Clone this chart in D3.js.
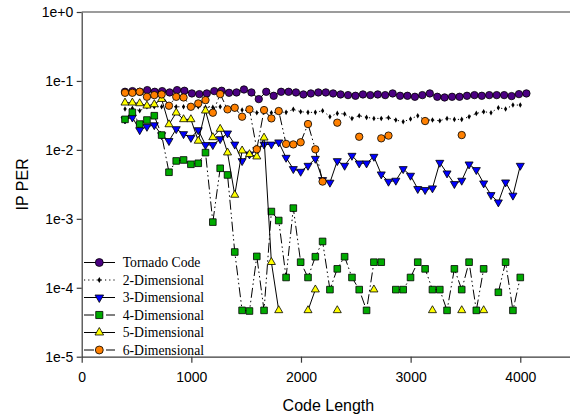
<!DOCTYPE html>
<html><head><meta charset="utf-8">
<script src="https://cdn.jsdelivr.net/npm/d3@7"></script>
<style>body{margin:0;background:#fff}svg{display:block}</style>
</head><body><svg id="c" width="570" height="415"></svg>
<script>
const codeLengthTornado = [395,463,531,598,666,734,802,870,937,1005,1073,1141,1209,1276,1344,1412,1480,1548,1615,1683,1751,1819,1887,1954,2022,2090,2158,2226,2293,2361,2429,2497,2565,2632,2700,2768,2836,2904,2971,3039,3107,3175,3243,3310,3378,3446,3514,3582,3649,3717,3785,3853,3921,3988,4056];
const codeLengthProduct = [395,462,529,595,662,729,796,862,929,996,1063,1129,1196,1263,1330,1396,1463,1530,1597,1663,1730,1797,1864,1930,1997,2064,2131,2197,2264,2331,2398,2465,2531,2598,2665,2732,2798,2865,2932,2999,3065,3132,3199,3266,3332,3399,3466,3533,3599,3666,3733,3800,3866,3933,4000];

const tornado = [0.0696,0.0712,0.0696,0.0736,0.0696,0.0712,0.0681,0.0736,0.0720,0.0659,
 0.0644,0.0659,0.0712,0.0720,0.0673,0.0681,0.0752,0.0681,0.0545,0.0696,
 0.0609,0.0696,0.0696,0.0681,0.0637,0.0659,0.0681,0.0681,0.0659,0.0637,
 0.0623,0.0609,0.0637,0.0623,0.0637,0.0623,0.0659,0.0609,0.0609,0.0589,
 0.0623,0.0659,0.0589,0.0576,0.0589,0.0589,0.0609,0.0623,0.0609,0.0623,
 0.0623,0.0623,0.0603,0.0644,0.0659];
const dim2 = [0.0391,0.0400,0.0370,0.0422,0.0422,0.0422,0.0422,0.0422,0.0422,0.0422,
 0.0422,0.0413,0.0413,0.0422,0.0400,0.0391,0.0378,0.0370,0.0346,0.0354,
 0.0346,0.0354,0.0350,0.0387,0.0358,0.0350,0.0350,0.0370,0.0303,0.0338,
 0.0331,0.0286,0.0313,0.0296,0.0286,0.0286,0.0293,0.0271,0.0256,0.0280,
 0.0313,0.0271,0.0271,0.0265,0.0286,0.0277,0.0277,0.0303,0.0338,0.0358,
 0.0346,0.0408,0.0391,0.0447,0.0447];
const dim3 = [0.0277,0.0296,0.0194,0.0217,0.0229,0.0164,0.0135,0.0201,0.0170,0.0150,
 0.0194,0.0118,0.0118,0.0144,0.0174,0.0120,0.00691,0.00863,0.00997,0.0120,
 0.0120,0.0129,0.00772,0.00529,0.00484,0.00591,0.00746,0.00367,0.00336,0.00691,
 0.00591,0.00825,0.00639,0.00639,0.00798,0.00443,0.00347,0.00359,0.00529,0.00424,
 0.00272,0.00263,0.00278,0.00653,0.00458,0.00321,0.00359,0.00618,0.00512,0.00328,
 0.00222,0.00174,0.00339,0.00218,0.00591];
const dim4 = [0.0277,0.0350,0.0237,0.0271,0.0313,0.0164,0.00474,0.00691,0.00714,0.00618,
 0.00639,0.00912,0.000896,0.00541,0.00433,0.000330,0.000047,0.000046,0.000285,0.000047,
 0.001276,0.000945,0.000141,0.00143,0.000235,0.000141,0.000282,0.00047,0.000094,0.000188,
 0.000282,0.000141,0.000094,0.000047,0.000235,0.000235,null,0.000094,0.000094,0.000141,
 0.000235,0.000188,0.000094,0.000094,0.000047,0.000188,0.000094,0.000235,0.000047,0.000188,
 null,0.000086,0.000235,0.000047,0.000141];
const dim5 = [0.0483,0.0483,0.0472,0.0437,0.0457,0.0545,0.0234,0.0346,0.0277,0.0277,
 0.0135,0.0370,0.0152,0.0201,0.00912,0.00222,0.00975,0.00863,0.00798,0.0150,
 0.000235,0.000047,null,null,null,0.000047,0.000094,null,null,0.000047,
 null,null,null,null,0.000094,null,null,null,null,null,
 null,null,0.000047,null,null,null,0.000047,null,null,0.000047,
 null,null,null,null,null];
const dim6 = [0.0673,0.0673,0.0696,0.0589,0.0623,0.0637,0.0437,0.0589,0.0576,0.0422,
 0.0472,0.0527,0.0346,0.0644,0.0387,0.0408,0.0303,0.0387,0.0102,0.0378,
 0.0286,0.0366,0.0122,0.0120,0.0129,0.0237,0.0102,0.00347,null,0.0248,
 null,null,0.0155,null,null,0.0147,0.0161,null,null,null,
 null,0.0262,null,null,null,null,0.0164,null,null,null,
 null,null,null,null,null];

const seriesNames = ["Tornado Code","2-Dimensional","3-Dimensional","4-Dimensional","5-Dimensional","6-Dimensional"];
const xTicks = [0,1000,2000,3000,4000];
const yTicks = [1e-5,1e-4,1e-3,1e-2,1e-1,1];
const yTickLabels = ["1e-5","1e-4","1e-3","1e-2","1e-1","1e+0"];

const svg = d3.select("#c");
const x = d3.scaleLinear().domain([0,4500]).range([81.7,575.1]);
const y = d3.scaleLog().domain([1e-5,1]).range([356.7,12]);
const axisColor = "#3a3a3a";
const sans = "'Liberation Sans', Arial, sans-serif";
const serif = "'Liberation Serif', 'Times New Roman', serif";

// top border
svg.append("line").attr("x1",x(0)).attr("x2",570).attr("y1",y(1)).attr("y2",y(1))
  .attr("stroke",axisColor).attr("stroke-width",1.2);

const gx = svg.append("g").attr("transform",`translate(0,${y(1e-5)})`)
  .call(d3.axisBottom(x).tickValues(xTicks).tickFormat(d3.format("d")).tickSize(6).tickSizeOuter(0).tickPadding(9));
const gy = svg.append("g").attr("transform",`translate(${x(0)},0)`)
  .call(d3.axisLeft(y).tickValues(yTicks).tickFormat((d,i)=>yTickLabels[yTicks.indexOf(d)]).tickSize(5).tickSizeOuter(0).tickPadding(3.5));
[gx,gy].forEach(g=>{
  g.selectAll("path,line").attr("stroke",axisColor).attr("stroke-width",1.2);
  g.selectAll("text").attr("font-family",sans).attr("font-size","14px").attr("fill","#000");
});

svg.append("text").attr("x",328.4).attr("y",410.8).attr("text-anchor","middle")
  .attr("font-family",sans).attr("font-size","16px").text("Code Length");
svg.append("text").attr("transform","translate(27.5,184.4) rotate(-90)").attr("text-anchor","middle")
  .attr("font-family",sans).attr("font-size","16px").text("IP PER");

const defs = [
  {name:seriesNames[0], xs:codeLengthTornado, vs:tornado, sym:d3.symbolCircle, size:43, fill:"#4b0082", dash:null, rot:0},
  {name:seriesNames[1], xs:codeLengthProduct, vs:dim2, sym:d3.symbolDiamond, size:9, fill:"#000", dash:"1.2,3", rot:0, nostroke:true},
  {name:seriesNames[2], xs:codeLengthProduct, vs:dim3, sym:d3.symbolTriangle, size:28, fill:"#0000ff", dash:null, rot:180},
  {name:seriesNames[3], xs:codeLengthProduct, vs:dim4, sym:d3.symbolSquare, size:44, fill:"#00aa00", dash:"10,3,1.5,3,1.5,3", rot:0},
  {name:seriesNames[4], xs:codeLengthProduct, vs:dim5, sym:d3.symbolTriangle, size:28, fill:"#ffff00", dash:null, rot:0},
  {name:seriesNames[5], xs:codeLengthProduct, vs:dim6, sym:d3.symbolCircle, size:43, fill:"#ff8000", dash:"10,3,1.5,3,1.5,3", rot:0}
];

const line = d3.line().defined(d=>d.v!=null).x(d=>x(d.x)).y(d=>y(d.v));
defs.forEach(s=>{
  const pts = s.xs.map((xv,i)=>({x:xv,v:s.vs[i]}));
  const g = svg.append("g");
  g.append("path").attr("d",line(pts)).attr("fill","none").attr("stroke","#000")
    .attr("stroke-width",1).attr("stroke-dasharray",s.dash);
  g.selectAll("path.m").data(pts.filter(d=>d.v!=null)).join("path").attr("class","m")
    .attr("d",d3.symbol().type(s.sym).size(s.size))
    .attr("transform",d=>`translate(${x(d.x)},${y(d.v)}) rotate(${s.rot})`)
    .attr("fill",s.fill).attr("stroke",s.nostroke?"none":"#000").attr("stroke-width",0.8);
});

// legend
const lg = svg.append("g");
defs.forEach((s,i)=>{
  const cy = 262.5 + i*17.5;
  lg.append("line").attr("x1",84).attr("x2",115).attr("y1",cy).attr("y2",cy)
    .attr("stroke","#000").attr("stroke-width",1).attr("stroke-dasharray",s.dash);
  lg.append("path").attr("d",d3.symbol().type(s.sym).size(s.size*1.15))
    .attr("transform",`translate(99.3,${cy}) rotate(${s.rot})`)
    .attr("fill",s.fill).attr("stroke",s.nostroke?"none":"#000").attr("stroke-width",0.8);
  lg.append("text").attr("x",122.7).attr("y",cy+4.6).attr("font-family",serif)
    .attr("font-size","13.7px").attr("fill","#000").text(s.name);
});
</script></body></html>
